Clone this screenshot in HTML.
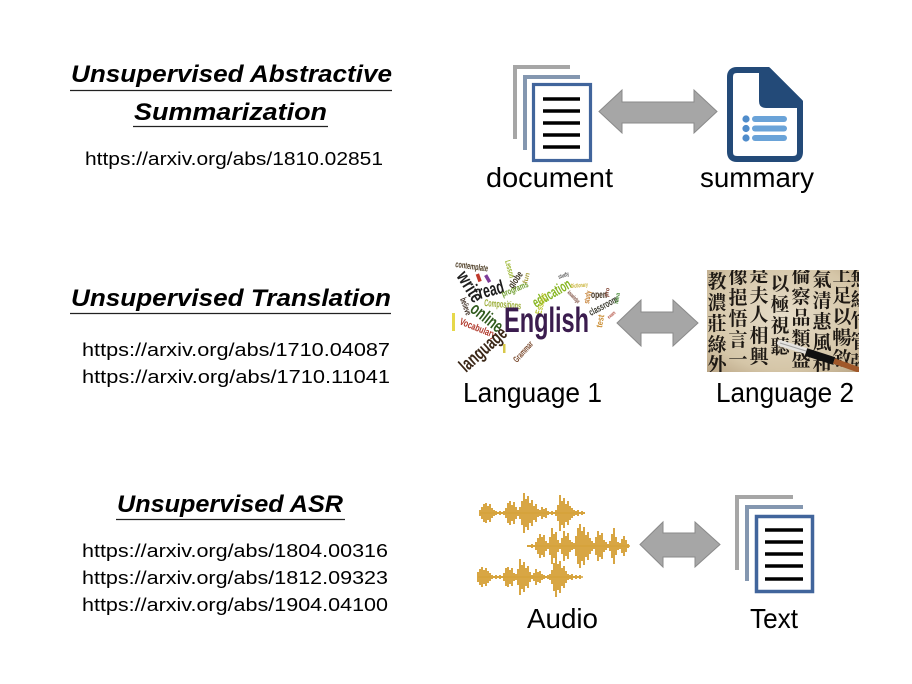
<!DOCTYPE html>
<html>
<head>
<meta charset="utf-8">
<style>
html,body{margin:0;padding:0;background:#fff;}
svg{display:block;}
.t{font-family:"Liberation Sans",sans-serif;font-weight:bold;font-style:italic;font-size:24px;fill:#000;}
.u{font-family:"Liberation Sans",sans-serif;font-size:18px;fill:#000;}
.l{font-family:"Liberation Sans",sans-serif;font-size:28px;fill:#000;}
.w{font-family:"Liberation Sans",sans-serif;font-weight:bold;}
.c{font-family:"Noto Serif CJK SC","Noto Sans CJK SC",serif;font-size:19px;font-weight:bold;fill:#1e1914;text-anchor:middle;}
</style>
</head>
<body>
<svg width="912" height="684" viewBox="0 0 912 684" xmlns="http://www.w3.org/2000/svg">
<defs>
  <radialGradient id="paper" cx="0.5" cy="0.45" r="0.75">
    <stop offset="0" stop-color="#e6dcc8"/>
    <stop offset="0.7" stop-color="#d5c6a8"/>
    <stop offset="1" stop-color="#b8a383"/>
  </radialGradient>
  <clipPath id="cal"><rect x="707" y="270" width="152" height="102"/></clipPath>
  <clipPath id="wc"><rect x="450" y="258" width="174" height="115"/></clipPath>
</defs>
<rect width="912" height="684" fill="#fff"/>

<!-- ===== Titles ===== -->
<text class="t" x="71" y="82" textLength="321" lengthAdjust="spacingAndGlyphs">Unsupervised Abstractive</text>
<line x1="70" y1="90.5" x2="392" y2="90.5" stroke="#222" stroke-width="1.3"/>
<text class="t" x="134" y="120" textLength="193" lengthAdjust="spacingAndGlyphs">Summarization</text>
<line x1="133" y1="126.5" x2="328" y2="126.5" stroke="#222" stroke-width="1.3"/>
<text class="u" x="85" y="165" textLength="298" lengthAdjust="spacingAndGlyphs">https://arxiv.org/abs/1810.02851</text>

<text class="t" x="71" y="306" textLength="320" lengthAdjust="spacingAndGlyphs">Unsupervised Translation</text>
<line x1="70" y1="313.5" x2="391" y2="313.5" stroke="#222" stroke-width="1.3"/>
<text class="u" x="82" y="356" textLength="308" lengthAdjust="spacingAndGlyphs">https://arxiv.org/abs/1710.04087</text>
<text class="u" x="82" y="383" textLength="308" lengthAdjust="spacingAndGlyphs">https://arxiv.org/abs/1710.11041</text>

<text class="t" x="117" y="512" textLength="226" lengthAdjust="spacingAndGlyphs">Unsupervised ASR</text>
<line x1="116" y1="519.5" x2="345" y2="519.5" stroke="#222" stroke-width="1.3"/>
<text class="u" x="82" y="557" textLength="306" lengthAdjust="spacingAndGlyphs">https://arxiv.org/abs/1804.00316</text>
<text class="u" x="82" y="584" textLength="306" lengthAdjust="spacingAndGlyphs">https://arxiv.org/abs/1812.09323</text>
<text class="u" x="82" y="611" textLength="306" lengthAdjust="spacingAndGlyphs">https://arxiv.org/abs/1904.04100</text>

<!-- ===== Row 1: document <-> summary ===== -->
<path d="M515,139 V67 H570" fill="none" stroke="#a6a6a6" stroke-width="4"/>
<path d="M525,150 V77 H580" fill="none" stroke="#8497b0" stroke-width="4"/>
<rect x="533.5" y="84.5" width="57" height="76" fill="#fff" stroke="#41659c" stroke-width="3.2"/>
<g stroke="#000" stroke-width="3.5">
  <line x1="543" y1="99" x2="580" y2="99"/>
  <line x1="543" y1="111" x2="580" y2="111"/>
  <line x1="543" y1="123" x2="580" y2="123"/>
  <line x1="543" y1="135" x2="580" y2="135"/>
  <line x1="543" y1="147" x2="580" y2="147"/>
</g>
<polygon points="599,111.5 622,90 622,102 694,102 694,90 717,111.5 694,133 694,123 622,123 622,133" fill="#a6a6a6" stroke="#8a8a8a" stroke-width="1"/>
<!-- summary icon -->
<path d="M737,70 L768,70 L800,102 L800,152 Q800,159 793,159 L737,159 Q730,159 730,152 L730,77 Q730,70 737,70 Z" fill="#fff" stroke="#234a78" stroke-width="6" stroke-linejoin="round"/>
<path d="M759,67 L769,67 L803,101 L803,108 L766,108 Q759,108 759,101 Z" fill="#234a78"/>
<g fill="#4f8ccb">
  <circle cx="746" cy="119" r="3.6"/>
  <circle cx="746" cy="128.5" r="3.6"/>
  <circle cx="746" cy="138" r="3.6"/>
</g>
<g fill="#6aa3d8">
  <rect x="752" y="116" width="35" height="6" rx="3"/>
  <rect x="752" y="125.5" width="35" height="6" rx="3"/>
  <rect x="752" y="135" width="35" height="6" rx="3"/>
</g>
<text class="l" x="486" y="187" textLength="127" lengthAdjust="spacingAndGlyphs">document</text>
<text class="l" x="700" y="187" textLength="114" lengthAdjust="spacingAndGlyphs">summary</text>

<!-- ===== Row 2: word cloud <-> calligraphy ===== -->
<g clip-path="url(#wc)">
  <text class="w" transform="translate(455,267) rotate(8)" font-size="9" fill="#4b3a22" textLength="33" lengthAdjust="spacingAndGlyphs">contemplate</text>
  <text class="w" transform="translate(456,276) rotate(58)" font-size="19" fill="#1f1f1f" textLength="33" lengthAdjust="spacingAndGlyphs">write</text>
  <text class="w" transform="translate(480,299) rotate(-15)" font-size="19" fill="#1a1a1a" textLength="26" lengthAdjust="spacingAndGlyphs">read</text>
  <rect x="477" y="274" width="3.5" height="8" fill="#c0392b" transform="rotate(-20 478 278)"/>
  <rect x="486" y="275" width="3.5" height="8" fill="#7d3c98" transform="rotate(-30 487 279)"/>
  <text class="w" transform="translate(505,261) rotate(75)" font-size="8" fill="#9ab52e" textLength="18" lengthAdjust="spacingAndGlyphs">Lesson</text>
  <text class="w" transform="translate(513,289) rotate(-55)" font-size="10" fill="#3a3220" textLength="18" lengthAdjust="spacingAndGlyphs">globe</text>
  <text class="w" transform="translate(503,297) rotate(-22)" font-size="9" fill="#6f9e2e" textLength="28" lengthAdjust="spacingAndGlyphs">programs</text>
  <text class="w" transform="translate(484,306) rotate(5)" font-size="10" fill="#9aac36" textLength="37" lengthAdjust="spacingAndGlyphs">Compositions</text>
  <text class="w" transform="translate(536,308) rotate(-30)" font-size="15" fill="#86b521" textLength="42" lengthAdjust="spacingAndGlyphs">education</text>
  <text class="w" transform="translate(541,315) rotate(-75)" font-size="9" fill="#b8c42a" textLength="22" lengthAdjust="spacingAndGlyphs">Essays</text>
  <text class="w" transform="translate(527,284) rotate(-75)" font-size="7" fill="#a8a040" textLength="11" lengthAdjust="spacingAndGlyphs">fun</text>
  <text class="w" transform="translate(559,279) rotate(-20)" font-size="6" fill="#555" textLength="11" lengthAdjust="spacingAndGlyphs">study</text>
  <text class="w" transform="translate(571,288) rotate(-5)" font-size="6" fill="#c7b030" textLength="17" lengthAdjust="spacingAndGlyphs">Dictionary</text>
  <text class="w" transform="translate(567,293) rotate(45)" font-size="6" fill="#7a4a3a" textLength="15" lengthAdjust="spacingAndGlyphs">knowledge</text>
  <text class="w" transform="translate(589,304) rotate(-80)" font-size="8" fill="#c27a2a" textLength="13" lengthAdjust="spacingAndGlyphs">study</text>
  <text class="w" transform="translate(591,298)" font-size="10" fill="#3a2a18" textLength="16" lengthAdjust="spacingAndGlyphs">open</text>
  <text class="w" transform="translate(608,297) rotate(-80)" font-size="6" fill="#7a3a2a" textLength="9" lengthAdjust="spacingAndGlyphs">pro</text>
  <text class="w" transform="translate(591,316) rotate(-28)" font-size="10" fill="#3a3a2e" textLength="31" lengthAdjust="spacingAndGlyphs">classroom</text>
  <text class="w" transform="translate(618,304) rotate(-80)" font-size="6" fill="#4a8a3a" textLength="11" lengthAdjust="spacingAndGlyphs">idea</text>
  <text class="w" transform="translate(602,328) rotate(-80)" font-size="9" fill="#c98b2e" textLength="13" lengthAdjust="spacingAndGlyphs">test</text>
  <text class="w" transform="translate(609,319) rotate(-40)" font-size="5" fill="#b04a3a" textLength="9" lengthAdjust="spacingAndGlyphs">exam</text>
  <text class="w" transform="translate(469,311) rotate(38)" font-size="18" fill="#2f5a1c" textLength="36" lengthAdjust="spacingAndGlyphs">online</text>
  <text class="w" transform="translate(460,299) rotate(70)" font-size="9" fill="#3a2a20" textLength="18" lengthAdjust="spacingAndGlyphs">believe</text>
  <rect x="452" y="313" width="3" height="18" fill="#e6d84a"/>
  <text class="w" transform="translate(459,324) rotate(22)" font-size="10" fill="#b0382b" textLength="38" lengthAdjust="spacingAndGlyphs">Vocabulary</text>
  <text class="w" transform="translate(466,373) rotate(-42)" font-size="19" fill="#3a2616" textLength="57" lengthAdjust="spacingAndGlyphs">language</text>
  <text class="w" transform="translate(517,363) rotate(-48)" font-size="9" fill="#7a4a2e" textLength="25" lengthAdjust="spacingAndGlyphs">Grammar</text>
  <rect x="503" y="344" width="2.5" height="9" fill="#d8c84a"/>
  <text class="w" transform="translate(504,332)" font-size="35" fill="#3b1c4e" textLength="85" lengthAdjust="spacingAndGlyphs">English</text>
</g>

<polygon points="617,323 641,300 641,312 673,312 673,300 698,323 673,346 673,333 641,333 641,346" fill="#a6a6a6" stroke="#8a8a8a" stroke-width="1"/>

<g clip-path="url(#cal)">
  <rect x="707" y="270" width="152" height="102" fill="url(#paper)"/>
  <text class="c"><tspan x="717" y="288">教</tspan><tspan x="717" y="309">濃</tspan><tspan x="717" y="330">莊</tspan><tspan x="717" y="351">綠</tspan><tspan x="717" y="371">外</tspan></text>
  <text class="c"><tspan x="738" y="283">像</tspan><tspan x="738" y="304">挹</tspan><tspan x="738" y="325">悟</tspan><tspan x="738" y="346">言</tspan><tspan x="738" y="366">一</tspan></text>
  <text class="c"><tspan x="759" y="281">是</tspan><tspan x="759" y="302">夫</tspan><tspan x="759" y="321">人</tspan><tspan x="759" y="342">相</tspan><tspan x="759" y="363">興</tspan></text>
  <text class="c"><tspan x="780" y="290">以</tspan><tspan x="780" y="311">極</tspan><tspan x="780" y="332">視</tspan><tspan x="780" y="353">聽</tspan></text>
  <text class="c"><tspan x="801" y="282">倫</tspan><tspan x="801" y="303">察</tspan><tspan x="801" y="324">品</tspan><tspan x="801" y="345">類</tspan><tspan x="801" y="366">盛</tspan></text>
  <text class="c"><tspan x="822" y="286">氣</tspan><tspan x="822" y="307">清</tspan><tspan x="822" y="328">惠</tspan><tspan x="822" y="349">風</tspan><tspan x="822" y="370">和</tspan></text>
  <text class="c"><tspan x="842" y="281">上</tspan><tspan x="842" y="302">足</tspan><tspan x="842" y="323">以</tspan><tspan x="842" y="344">暢</tspan><tspan x="842" y="365">敘</tspan></text>
  <text class="c"><tspan x="860" y="285">無</tspan><tspan x="860" y="306">絲</tspan><tspan x="860" y="327">竹</tspan><tspan x="860" y="348">管</tspan><tspan x="860" y="369">弦</tspan></text>
  <!-- brush -->
  <line x1="780" y1="343" x2="806" y2="351" stroke="#e6e4e0" stroke-width="6" stroke-linecap="round"/>
  <line x1="780" y1="343" x2="806" y2="351" stroke="#777" stroke-width="1" opacity="0.6"/>
  <line x1="806" y1="352" x2="834" y2="361" stroke="#111" stroke-width="8"/>
  <line x1="834" y1="361" x2="862" y2="371" stroke="#a0582a" stroke-width="5.5"/>
</g>

<text class="l" x="463" y="402" textLength="139" lengthAdjust="spacingAndGlyphs">Language 1</text>
<text class="l" x="716" y="402" textLength="138" lengthAdjust="spacingAndGlyphs">Language 2</text>

<!-- ===== Row 3: audio <-> text ===== -->
<g stroke="#d6a23a" stroke-width="1.9" fill="none">
  <g>
    <line x1="480" y1="513" x2="585" y2="513" stroke-width="1.5"/>
    <path d="M480 510V516M482 507V519M484 504V522M486 503V523M488 506V520M490 504V522M492 508V518M494 510V516M496 511V515M498 512V514M500 511V515M502 512V514M504 511V515M506 508V518M508 503V523M510 501V525M512 505V521M514 502V524M516 507V519M518 510V516M520 507V519M522 501V525M524 493V533M526 499V527M528 496V530M530 503V523M532 500V526M534 506V520M536 504V522M538 509V517M540 510V516M542 507V519M544 509V517M546 508V518M548 511V515M550 512V514M552 511V515M554 512V514M556 510V516M558 505V521M560 495V531M562 501V525M564 498V528M566 504V522M568 501V525M570 506V520M572 508V518M574 510V516M576 511V515M578 510V516M580 512V514M582 511V515M584 512V514"/>
  </g>
  <g transform="translate(-2,64)">
    <line x1="480" y1="513" x2="585" y2="513" stroke-width="1.5"/>
    <path d="M480 508V518M482 505V521M484 503V523M486 506V520M488 504V522M490 507V519M492 509V517M494 511V515M496 512V514M498 511V515M500 512V514M502 511V515M504 512V514M506 509V517M508 504V522M510 503V523M512 506V520M514 504V522M516 509V517M518 510V516M520 505V521M522 495V531M524 501V525M526 498V528M528 504V522M530 502V524M532 508V518M534 511V515M536 509V517M538 505V521M540 508V518M542 507V519M544 510V516M546 511V515M548 512V514M550 511V515M552 510V516M554 506V520M556 499V527M558 493V533M560 500V526M562 497V529M564 504V522M566 502V524M568 507V519M570 510V516M572 511V515M574 510V516M576 512V514M578 511V515M580 512V514M582 511V515"/>
  </g>
  <line x1="527" y1="546" x2="630" y2="546" stroke-width="1.5"/>
  <path d="M528 545V547M530 545V547M532 544V548M534 545V547M536 542V550M538 538V554M540 534V558M542 537V555M544 535V557M546 541V551M548 543V549M550 537V555M552 528V564M554 534V558M556 532V560M558 540V552M560 543V549M562 538V554M564 531V561M566 536V556M568 533V559M570 540V552M572 542V550M574 543V549M576 536V556M578 528V564M580 524V568M582 531V561M584 527V565M586 535V557M588 532V560M590 538V554M592 541V551M594 543V549M596 537V555M598 531V561M600 535V557M602 533V559M604 540V552M606 542V550M608 544V548M610 541V551M612 534V558M614 528V564M616 537V555M618 542V550M620 543V549M622 539V553M624 536V556M626 540V552M628 544V548"/>
</g>

<polygon points="640,544.5 663,522 663,533 695,533 695,522 720,544.5 695,567 695,557 663,557 663,567" fill="#a6a6a6" stroke="#8a8a8a" stroke-width="1"/>

<path d="M737,570 V497 H793" fill="none" stroke="#a6a6a6" stroke-width="4"/>
<path d="M747,581 V507 H803" fill="none" stroke="#8497b0" stroke-width="4"/>
<rect x="756.5" y="516.5" width="56" height="75" fill="#fff" stroke="#41659c" stroke-width="3.5"/>
<g stroke="#000" stroke-width="3.5">
  <line x1="765" y1="530" x2="803" y2="530"/>
  <line x1="765" y1="542" x2="803" y2="542"/>
  <line x1="765" y1="554" x2="803" y2="554"/>
  <line x1="765" y1="566" x2="803" y2="566"/>
  <line x1="765" y1="579" x2="803" y2="579"/>
</g>

<text class="l" x="527" y="628" textLength="71" lengthAdjust="spacingAndGlyphs">Audio</text>
<text class="l" x="750" y="628" textLength="48" lengthAdjust="spacingAndGlyphs">Text</text>
</svg>
</body>
</html>
